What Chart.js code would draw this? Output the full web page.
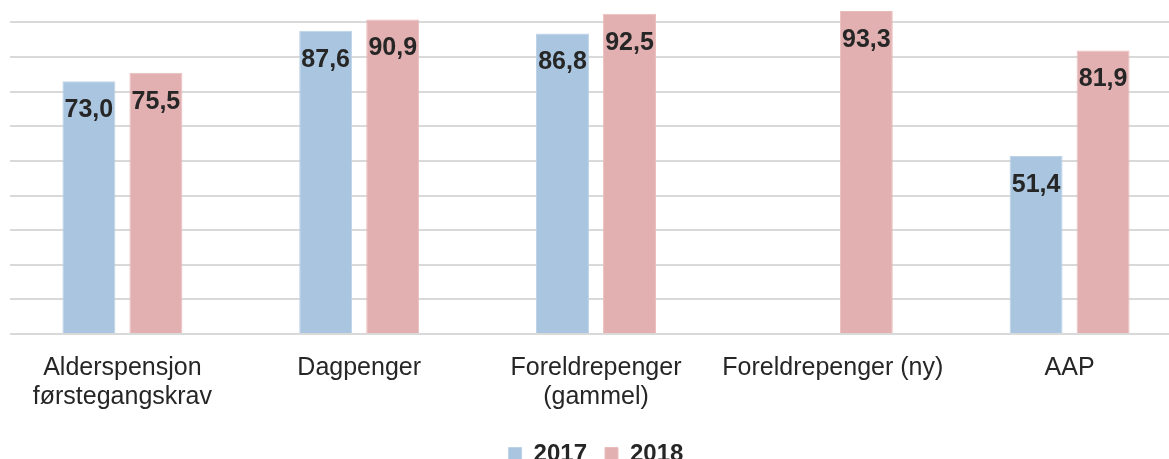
<!DOCTYPE html>
<html>
<head>
<meta charset="utf-8">
<script src="https://cdn.jsdelivr.net/npm/chart.js@4"></script>
<style>
  html, body { margin: 0; padding: 0; background: #fff; overflow: hidden; }
  #wrap { width: 1200px; height: 476px; position: relative; }
</style>
</head>
<body>
<div id="wrap"><canvas id="myChart"></canvas></div>
<script>
'use strict';
let categories = [['Alderspensjon', 'førstegangskrav'], 'Dagpenger', ['Foreldrepenger', '(gammel)'], 'Foreldrepenger (ny)', 'AAP'];
let values2017 = [73.0, 87.6, 86.8, null, 51.4];
let values2018 = [75.5, 90.9, 92.5, 93.3, 81.9];
let seriesNames = ['2017', '2018'];

let FONT = '"Liberation Sans", Arial, sans-serif';

// value labels inside the top of each bar
let barLabels = {
  id: 'barLabels',
  afterDatasetsDraw(chart) {
    let ctx = chart.ctx;
    ctx.save();
    ctx.font = 'bold 25px ' + FONT;
    ctx.fillStyle = '#262626';
    ctx.textAlign = 'center';
    ctx.textBaseline = 'middle';
    chart.data.datasets.forEach(function (ds, di) {
      chart.getDatasetMeta(di).data.forEach(function (bar, i) {
        if (ds.data[i] === null) return;
        ctx.fillText(ds.data[i].toFixed(1).replace('.', ','), bar.x, bar.y + 29);
      });
    });
    ctx.restore();
  }
};

// gridlines start a little right of the plot edge
let gridMask = {
  id: 'gridMask',
  beforeDatasetsDraw(chart) {
    let ctx = chart.ctx;
    ctx.save();
    ctx.fillStyle = '#fff';
    ctx.fillRect(0, 0, 10, chart.chartArea.bottom + 3);
    ctx.restore();
  }
};

let ctx = document.getElementById('myChart').getContext('2d');
let myChart = new Chart(ctx, {
  type: 'bar',
  data: {
    labels: categories,
    datasets: [{
      label: seriesNames[0],
      data: values2017,
      backgroundColor: '#a9c5df',
      borderColor: '#bdd2e7',
      borderWidth: 1,
      categoryPercentage: 0.566,
      barPercentage: 0.79
    }, {
      label: seriesNames[1],
      data: values2018,
      backgroundColor: '#e2b0b0',
      borderColor: '#ecbdbd',
      borderWidth: 1,
      categoryPercentage: 0.566,
      barPercentage: 0.79
    }]
  },
  options: {
    responsive: true,
    maintainAspectRatio: false,
    animation: false,
    layout: { padding: { left: 4, right: 12, top: 0, bottom: 0 } },
    scales: {
      x: {
        grid: { display: false },
        border: { display: false },
        ticks: {
          color: '#262626',
          font: { family: FONT, size: 25, lineHeight: 1.16 },
          padding: 12,
          maxRotation: 0,
          autoSkip: false
        }
      },
      y: {
        min: 0,
        max: 96.5,
        display: true,
        border: { display: false },
        grid: { color: '#d9d9d9', lineWidth: 2, drawTicks: false },
        ticks: { display: false, stepSize: 10 },
        afterBuildTicks: function (scale) {
          scale.ticks = scale.ticks.filter(function (t) { return t.value % 10 === 0; });
        }
      }
    },
    plugins: {
      legend: {
        position: 'bottom',
        labels: {
          color: '#262626',
          font: { family: FONT, size: 24, weight: 'bold' },
          boxWidth: 13,
          boxHeight: 13,
          padding: 18
        }
      },
      tooltip: { enabled: false }
    }
  },
  plugins: [barLabels, gridMask]
});
</script>
</body>
</html>
